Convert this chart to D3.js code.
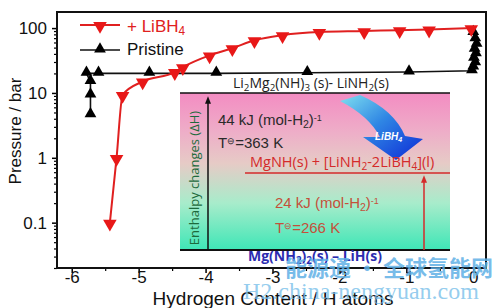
<!DOCTYPE html>
<html>
<head>
<meta charset="utf-8">
<script src="https://cdn.jsdelivr.net/npm/d3@7/dist/d3.min.js"></script>
<style>
  body { margin: 0; background: #fff; }
  svg { font-family: "Liberation Sans", Arial, sans-serif; }
</style>
</head>
<body>
<div id="chart"></div>
<script>
// data ++++++++++++++++++++++++++++++++++++++++++
// + LiBH4 (red, down triangles)
const libX = [-5.43, -5.33, -5.24, -4.94, -4.46, -4.34, -3.94, -3.6, -3.27, -2.85, -2.3, -1.63, -1.1, -0.66, -0.03];
const libP = [0.1, 1, 9.3, 15, 21, 25, 38, 49, 65, 78, 87, 90, 93, 95, 100];

// Pristine (black, up triangles)
const priX = [-5.72, -5.72, -5.72, -5.78, -5.6, -4.84, -3.84, -2.48, -0.96, -0.02, 0.0, 0.03, 0.01, 0.04, 0.02, 0.05, 0.03, 0.0];
const priP = [4.6, 9.3, 15, 20, 20, 20, 20, 20.5, 21, 22, 25, 29, 34, 40, 47, 56, 68, 85];

const xTicks = [-6, -5, -4, -3, -2, -1, 0];
const xMinor = [-5.5, -4.5, -3.5, -2.5, -1.5, -0.5];
const yTicks = [0.1, 1, 10, 100];
// data ------------------------------------------

const W = 500, H = 308;
const svg = d3.select("#chart").append("svg")
  .attr("width", W)
  .attr("height", H);

const x = d3.scaleLinear().domain([-6.22, 0.19]).range([57, 486]);
const y = d3.scaleLog().domain([0.02, 177]).range([268, 12]);

// minor log ticks
const yMinor = [];
[0.01, 0.1, 1, 10, 100].forEach(dec => {
  for (let k = 2; k <= 9; k++) {
    const v = dec * k;
    if (v >= 0.02 && v <= 177) yMinor.push(v);
  }
});

// helper for sub / superscripts
function rich(g, px, py, parts, attrs) {
  const t = g.append("text").attr("x", px).attr("y", py);
  Object.entries(attrs || {}).forEach(([k, v]) => t.attr(k, v));
  parts.forEach(([s, kind]) => {
    const ts = t.append("tspan").text(s);
    if (kind === "sub") ts.attr("baseline-shift", "-25%").attr("font-size", "70%");
    if (kind === "sup") ts.attr("baseline-shift", "40%").attr("font-size", "60%");
  });
  return t;
}

// inset diagram ---------------------------------
const defs = svg.append("defs");
const bg = defs.append("linearGradient").attr("id", "bg")
  .attr("x1", 0).attr("y1", 0).attr("x2", 0).attr("y2", 1);
bg.append("stop").attr("offset", "0%").attr("stop-color", "#f38cc2");
bg.append("stop").attr("offset", "25%").attr("stop-color", "#eeaec8");
bg.append("stop").attr("offset", "45%").attr("stop-color", "#e6cbc6");
bg.append("stop").attr("offset", "70%").attr("stop-color", "#a8eccb");
bg.append("stop").attr("offset", "100%").attr("stop-color", "#3ee6b6");

const blue = defs.append("linearGradient").attr("id", "blue")
  .attr("x1", 0).attr("y1", 0).attr("x2", 1).attr("y2", 1);
blue.append("stop").attr("offset", "0%").attr("stop-color", "#7fe0f0");
blue.append("stop").attr("offset", "45%").attr("stop-color", "#2f86e4");
blue.append("stop").attr("offset", "100%").attr("stop-color", "#0c28d6");

const mk = (id, col) => defs.append("marker").attr("id", id)
  .attr("viewBox", "0 0 10 10").attr("refX", 5).attr("refY", 5)
  .attr("markerWidth", 5).attr("markerHeight", 6).attr("orient", "auto")
  .append("path").attr("d", "M0,1 L10,5 L0,9 Z").attr("fill", col);
mk("ab", "#111");
mk("ar", "#d42a2a");

const inset = svg.append("g");
inset.append("rect").attr("x", 180).attr("y", 93).attr("width", 270).attr("height", 157)
  .attr("fill", "url(#bg)");
inset.append("line").attr("x1", 180).attr("x2", 450).attr("y1", 93).attr("y2", 93)
  .attr("stroke", "#111").attr("stroke-width", 1.5);
inset.append("line").attr("x1", 180).attr("x2", 450).attr("y1", 250).attr("y2", 250)
  .attr("stroke", "#111").attr("stroke-width", 2);
inset.append("line").attr("x1", 208).attr("x2", 208).attr("y1", 250).attr("y2", 100)
  .attr("stroke", "#111").attr("stroke-width", 1.5).attr("marker-end", "url(#ab)");
inset.append("line").attr("x1", 245).attr("x2", 450).attr("y1", 173).attr("y2", 173)
  .attr("stroke", "#d42a2a").attr("stroke-width", 1.5);
inset.append("line").attr("x1", 424).attr("x2", 424).attr("y1", 250).attr("y2", 179)
  .attr("stroke", "#d42a2a").attr("stroke-width", 1.5).attr("marker-end", "url(#ar)");

// blue swoosh arrow
inset.append("path")
  .attr("d", "M340,101 L360,95 Q394,110 405,136 L423,139 L396,160 L363,137 L380,137 Q369,116 340,101 Z")
  .attr("fill", "url(#blue)");
rich(inset, 375, 140, [["LiBH", null], ["4", "sub"]],
  { "font-size": 10, "font-style": "italic", "font-weight": "bold", fill: "#fff" });

const calibri = '"Open Sans", "Noto Sans", sans-serif';
rich(inset, 233, 88, [["Li", null], ["2", "sub"], ["Mg", null], ["2", "sub"], ["(NH)", null], ["3", "sub"], [" (s)- LiNH", null], ["2", "sub"], ["(s)", null]],
  { "font-size": 14, "font-family": calibri, fill: "#222" });
rich(inset, 218, 125, [["44 kJ (mol-H", null], ["2", "sub"], [")", null], ["-1", "sup"]],
  { "font-size": 15, fill: "#2a2a2a" });
rich(inset, 218, 148, [["T", null], ["\u2296", "sup"], ["=363 K", null]],
  { "font-size": 15, fill: "#2a2a2a" });
rich(inset, 250, 167, [["MgNH(s) + [LiNH", null], ["2", "sub"], ["-2LiBH", null], ["4", "sub"], ["](l)", null]],
  { "font-size": 14.5, "font-family": calibri, fill: "#d42a2a" });
rich(inset, 275, 208, [["24 kJ (mol-H", null], ["2", "sub"], [")", null], ["-1", "sup"]],
  { "font-size": 15, fill: "#c4503a" });
rich(inset, 275, 233, [["T", null], ["\u2296", "sup"], ["=266 K", null]],
  { "font-size": 15, fill: "#c4503a" });
inset.append("text")
  .attr("transform", "translate(199,178) rotate(-90)")
  .attr("text-anchor", "middle")
  .attr("font-family", calibri).attr("font-size", 13)
  .attr("fill", "#1d6a3c")
  .text("Enthalpy changes (\u0394H)");
rich(inset, 248, 261, [["Mg(NH", null], ["2", "sub"], [")", null], ["2", "sub"], ["(s) \u2013 LiH(s)", null]],
  { "font-size": 14, "font-family": calibri, "font-weight": "bold", fill: "#2c2cb0" });

// axes ------------------------------------------
const xAxis = svg.append("g").attr("transform", "translate(0,268)")
  .call(d3.axisBottom(x).tickValues(xTicks).tickSize(5).tickFormat(d => String(d)));
xAxis.select(".domain").remove();
xAxis.selectAll("line").attr("stroke-width", 1.5);
xAxis.selectAll("text").attr("font-size", 17).attr("font-family", "Liberation Sans, Arial")
  .attr("y", 15).attr("dy", 0).attr("fill", "#111");
const xAxisMinor = svg.append("g").attr("transform", "translate(0,268)")
  .call(d3.axisBottom(x).tickValues(xMinor).tickSize(3).tickFormat(""));
xAxisMinor.select(".domain").remove();
xAxisMinor.selectAll("line").attr("stroke-width", 1.2);

const yAxis = svg.append("g").attr("transform", "translate(57,0)")
  .call(d3.axisLeft(y).tickValues(yTicks).tickSize(5).tickPadding(5).tickFormat(d3.format("~g")));
yAxis.select(".domain").remove();
yAxis.selectAll("line").attr("stroke-width", 1.5);
yAxis.selectAll("text").attr("font-size", 17).attr("font-family", "Liberation Sans, Arial").attr("fill", "#111");
const yAxisMinor = svg.append("g").attr("transform", "translate(57,0)")
  .call(d3.axisLeft(y).tickValues(yMinor).tickSize(3).tickFormat(""));
yAxisMinor.select(".domain").remove();
yAxisMinor.selectAll("line").attr("stroke-width", 1.2);

// frame
svg.append("rect").attr("x", 57).attr("y", 12).attr("width", 429).attr("height", 256)
  .attr("fill", "none").attr("stroke", "#111").attr("stroke-width", 2);

svg.append("text")
  .attr("transform", "translate(21,131) rotate(-90)")
  .attr("text-anchor", "middle").attr("font-size", 17).attr("fill", "#111")
  .text("Pressure / bar");
svg.append("text")
  .attr("x", 273).attr("y", 305).attr("text-anchor", "middle")
  .attr("font-size", 19).attr("fill", "#111")
  .text("Hydrogen Content / H atoms");

// series ----------------------------------------
const libData = libX.map((v, i) => ({ x: v, p: libP[i] }));
const priData = priX.map((v, i) => ({ x: v, p: priP[i] }));

const line = d3.line().x(d => x(d.x)).y(d => y(d.p));

svg.append("path").datum(priData)
  .attr("d", line)
  .attr("fill", "none").attr("stroke", "#111").attr("stroke-width", 1.6);
svg.append("path").datum(libData)
  .attr("d", line.curve(d3.curveMonotoneX))
  .attr("fill", "none").attr("stroke", "#e02020").attr("stroke-width", 2);

const triUp = d3.symbol().type(d3.symbolTriangle).size(60);
const triDown = d3.symbol().type(d3.symbolTriangle).size(80);

svg.append("g").selectAll("path").data(priData).enter()
  .append("path")
  .attr("d", triUp)
  .attr("transform", d => `translate(${x(d.x)},${y(d.p) - 1})`)
  .attr("fill", "#000");
svg.append("g").selectAll("path").data(libData).enter()
  .append("path")
  .attr("d", triDown)
  .attr("transform", d => `translate(${x(d.x)},${y(d.p) + 1}) rotate(180)`)
  .attr("fill", "#e81818");

// legend
const leg = svg.append("g");
leg.append("line").attr("x1", 80).attr("x2", 120).attr("y1", 25).attr("y2", 25)
  .attr("stroke", "#e02020").attr("stroke-width", 2);
leg.append("path").attr("d", triDown).attr("transform", "translate(100,26) rotate(180)").attr("fill", "#e81818");
rich(leg, 127, 32, [["+ LiBH", null], ["4", "sub"]], { "font-size": 17, fill: "#e02020" });
leg.append("line").attr("x1", 80).attr("x2", 120).attr("y1", 50).attr("y2", 50)
  .attr("stroke", "#111").attr("stroke-width", 1.6);
leg.append("path").attr("d", triUp).attr("transform", "translate(100,49)").attr("fill", "#000");
leg.append("text").attr("x", 127).attr("y", 55).attr("font-size", 17).attr("fill", "#111").text("Pristine");

// watermark
svg.append("text")
  .attr("x", 285).attr("y", 276)
  .attr("font-family", '"Noto Sans CJK SC", sans-serif').attr("font-weight", "bold")
  .attr("font-size", 22).attr("fill", "#5fb0e6").attr("fill-opacity", 0.85)
  .text("能源通 · 全球氢能网");
svg.append("text")
  .attr("x", 243).attr("y", 299)
  .attr("font-family", '"Liberation Serif", "DejaVu Serif", serif')
  .attr("font-size", 24).attr("fill", "#79bfea").attr("fill-opacity", 0.8)
  .text("H2.china-nengyuan.com");
</script>
</body>
</html>
